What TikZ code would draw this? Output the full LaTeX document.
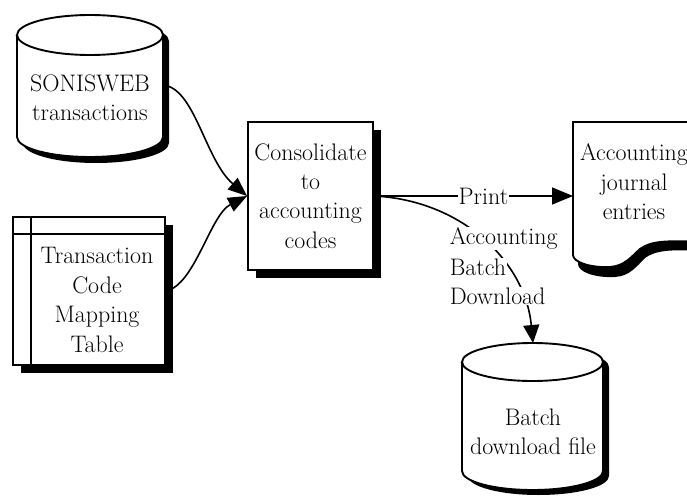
\documentclass[tikz,border=0pt]{standalone}
\usetikzlibrary{arrows.meta,shadows}

\tikzset{
  every node/.style={font=\fontsize{24}{29.5}\selectfont, align=center, inner sep=0pt},
  body/.style={draw=black, fill=white, line width=1.9bp},
  shade/.style={fill=black},
  hardshadow/.style={general shadow={fill=black, shadow xshift=8bp, shadow yshift=-8bp}},
  flow/.style={line width=1.6bp},
  tip/.style={-{Triangle[length=19bp,width=15bp]}},
  bigtip/.style={-{Triangle[length=21bp,width=17bp]}},
  lbl/.style={fill=white, inner sep=0.6bp, anchor=base west}
}

\begin{document}
\begin{tikzpicture}[x=1bp,y=-1bp]
\useasboundingbox (0,0) rectangle (687,498);

% ---- data store: SONISWEB transactions ----
\fill[shade] (23,41) -- (23,143)
  arc[start angle=180,end angle=360,x radius=73bp,y radius=20bp] -- (169,41)
  arc[start angle=0,end angle=180,x radius=73bp,y radius=20bp] -- cycle;
\filldraw[body] (17,35) -- (17,137)
  arc[start angle=180,end angle=360,x radius=73bp,y radius=20bp] -- (163,35)
  arc[start angle=0,end angle=180,x radius=73bp,y radius=20bp] -- cycle;
\draw[body, fill=none] (17,35) arc[start angle=180,end angle=360,x radius=73bp,y radius=20bp];
\node (src) at (90,98) {SONISWEB\\transactions};
\coordinate (srcE) at (163,85);

% ---- mapping table ----
\node[body, hardshadow, minimum width=152bp, minimum height=148bp] (tbl) at (89,291) {};
\draw[line width=1.9bp] ([xshift=19bp]tbl.north west) -- ([xshift=19bp]tbl.south west);
\draw[line width=1.9bp] ([yshift=-18bp]tbl.north west) -- ([yshift=-18bp]tbl.north east);
\node (tblText) at (97,300) {Transaction\\Code\\Mapping\\Table};

% ---- process ----
\node[body, hardshadow, minimum width=125bp, minimum height=148bp] (proc) at (310.5,196)
  {Consolidate\\to\\accounting\\codes};

% ---- document: journal entries ----
\fill[shade] (578,131) -- (578,264)
  .. controls (578,272) and (595,278) .. (615,277)
  .. controls (630,276) and (637,266) .. (645,258)
  .. controls (655,251) and (667,249) .. (705,251) -- (705,131) -- cycle;
\filldraw[body] (700,122) -- (573,122) -- (573,255)
  .. controls (573,262) and (590,268) .. (610,267)
  .. controls (625,266) and (632,256) .. (640,249)
  .. controls (650,242) and (662,240) .. (700,242);
\node (doc) at (634,182) {Accounting\\journal\\entries};
\coordinate (docW) at (573,196);

% ---- data store: batch download file ----
\fill[shade] (468,367) -- (468,476)
  arc[start angle=180,end angle=360,x radius=70.5bp,y radius=19bp] -- (609,367)
  arc[start angle=0,end angle=180,x radius=70.5bp,y radius=19bp] -- cycle;
\filldraw[body] (462,362) -- (462,471)
  arc[start angle=180,end angle=360,x radius=70.5bp,y radius=19bp] -- (603,362)
  arc[start angle=0,end angle=180,x radius=70.5bp,y radius=19bp] -- cycle;
\draw[body, fill=none] (462,362) arc[start angle=180,end angle=360,x radius=70.5bp,y radius=19bp];
\node (file) at (533,432) {Batch\\download file};
\coordinate (fileN) at (533,343);

% ---- flows into the process ----
\draw[flow, tip] (srcE) .. controls (195,88) and (205,160) .. (proc.west);
\draw[flow, tip] (tbl.east) .. controls (195,285) and (210,215) .. (proc.west);

% ---- flows out of the process ----
\draw[flow, bigtip] (proc.east) -- (docW)
  node[pos=0.55, fill=white, inner xsep=1bp, inner ysep=0.5bp] (printLbl) {Print};
\draw[flow, -{Triangle[length=18bp,width=16bp]}] (proc.east)
  .. controls (460,200) and (525,260) .. (fileN);
\node[lbl] (accA) at (449,245) {Accounting};
\node[lbl] (accB) at (449,275) {Batch};
\node[lbl] (accC) at (449,304) {Download};

\end{tikzpicture}
\end{document}
